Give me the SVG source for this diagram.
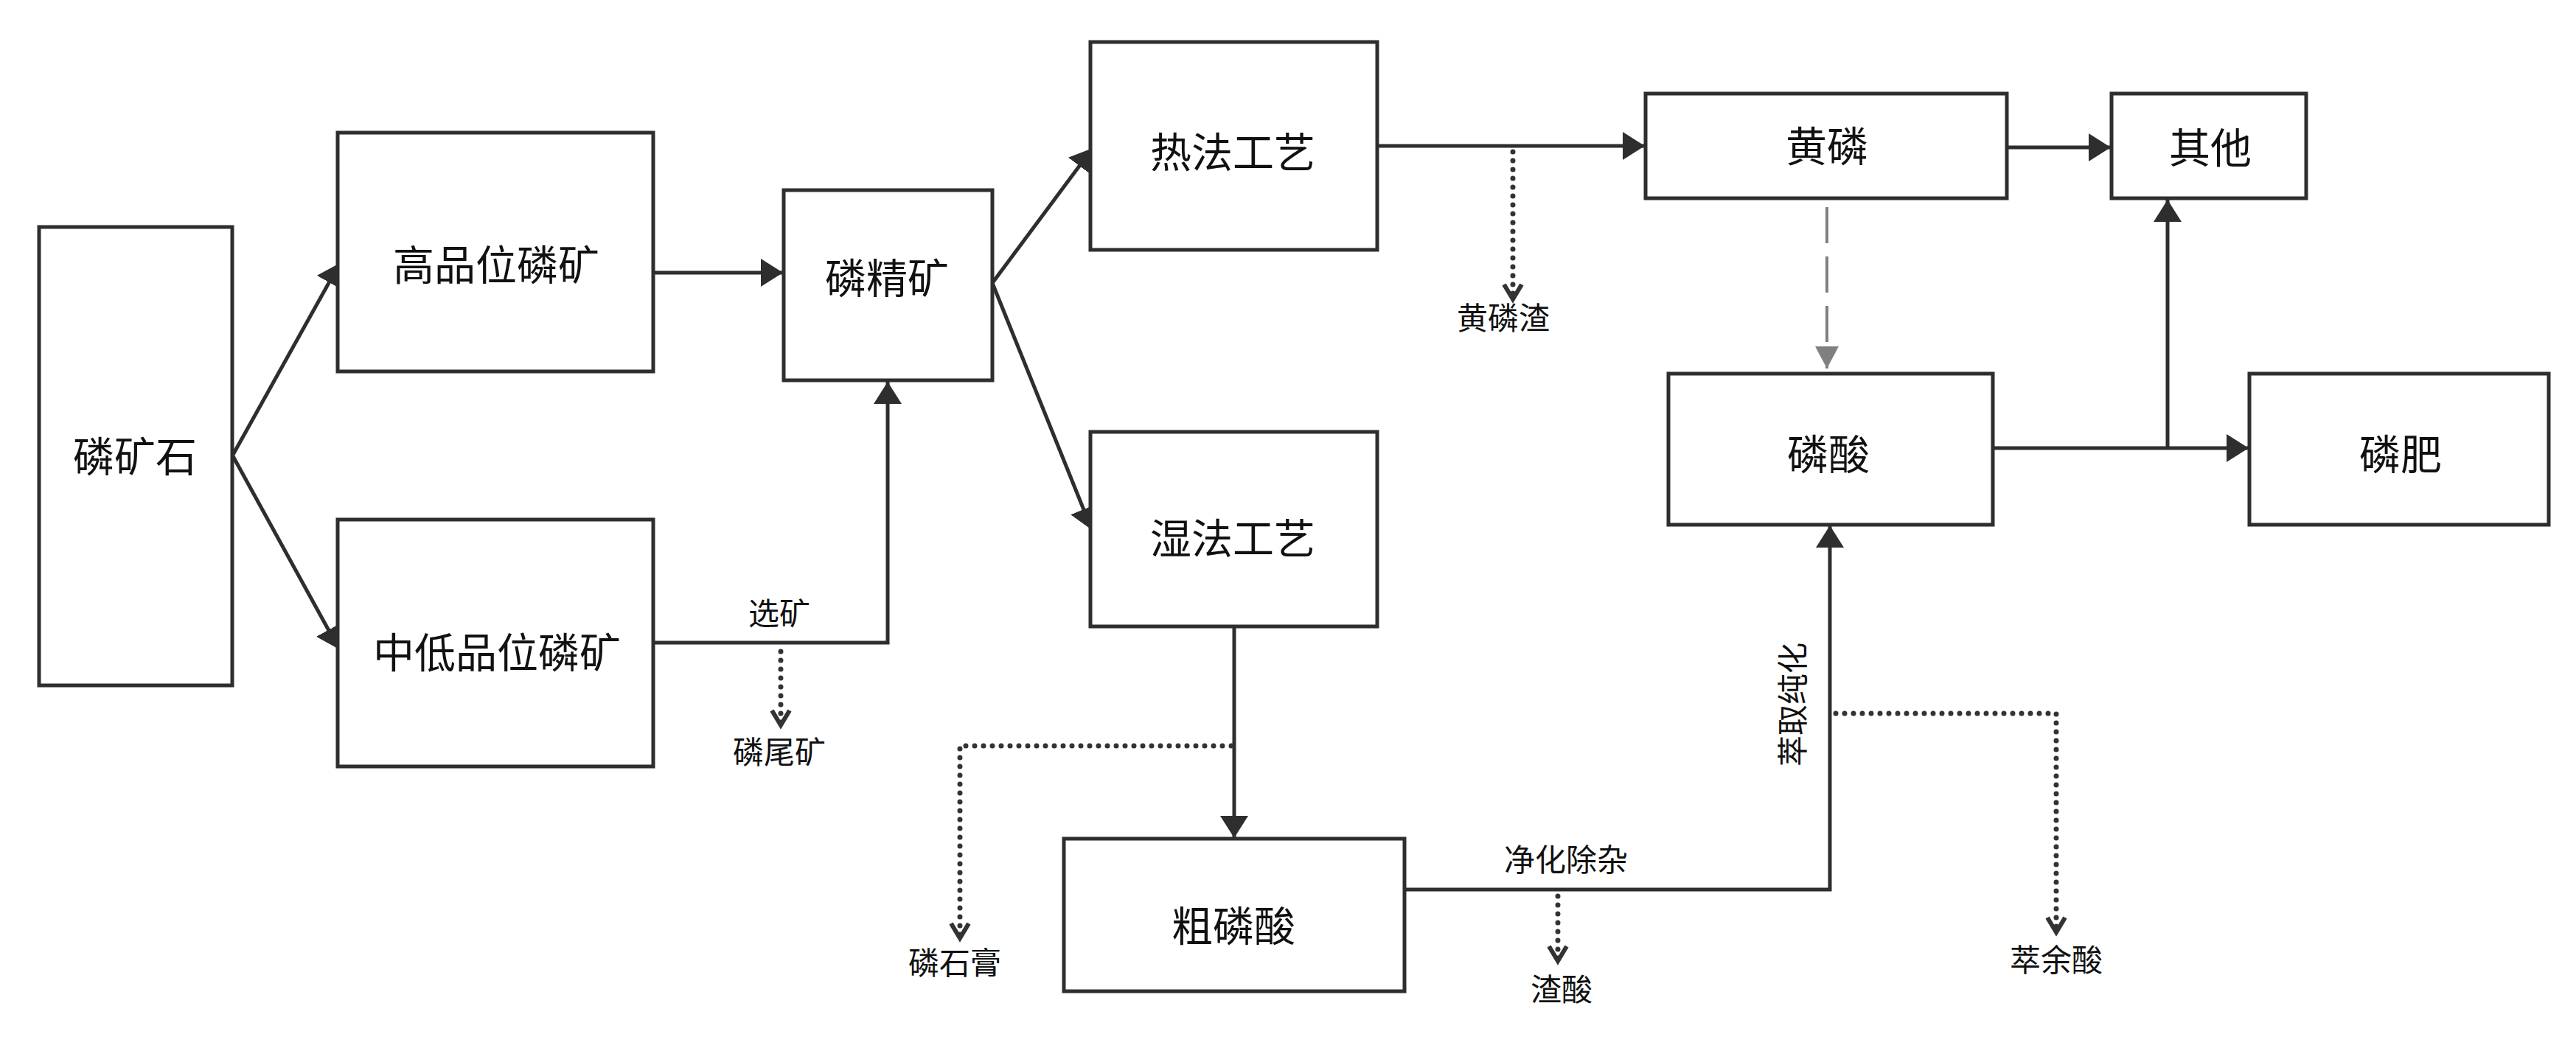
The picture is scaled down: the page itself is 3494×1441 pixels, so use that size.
<svg xmlns="http://www.w3.org/2000/svg" width="3494" height="1441" viewBox="0 0 3494 1441">
<style>
.box{fill:#fff;stroke:#2e2e2e;stroke-width:5}
.lbl{font-family:"Noto Sans CJK SC","Noto Sans CJK TC",sans-serif;font-size:56px;fill:#111;text-anchor:middle}
.sm{font-family:"Noto Sans CJK SC","Noto Sans CJK TC",sans-serif;font-size:42px;fill:#111;text-anchor:middle}
.ln{fill:none;stroke:#2e2e2e;stroke-width:5;marker-end:url(#arr)}
.dot{fill:none;stroke:#333;stroke-width:7;stroke-linecap:round;stroke-dasharray:0 12;marker-end:url(#chev)}
.gry{fill:none;stroke:#808080;stroke-width:4;stroke-dasharray:49 18;marker-end:url(#garr)}
</style>
<defs>
<marker id="arr" markerUnits="userSpaceOnUse" markerWidth="32" markerHeight="40" refX="30" refY="19" orient="auto">
<path d="M0,0 L30,19 L0,38 z" fill="#2e2e2e"/>
</marker>
<marker id="garr" markerUnits="userSpaceOnUse" markerWidth="32" markerHeight="34" refX="30" refY="16" orient="auto">
<path d="M0,0 L30,16 L0,32 z" fill="#808080"/>
</marker>
<marker id="chev" markerUnits="userSpaceOnUse" markerWidth="30" markerHeight="34" refX="23" refY="15" orient="auto">
<path d="M3,3 L23,15 L3,27" fill="none" stroke="#333" stroke-width="6" stroke-linejoin="miter"/>
</marker>
</defs>
<rect width="3494" height="1441" fill="#fff"/>
<g id="connectors">
<path class="ln" d="M316,617 L461,357"/>
<path class="ln" d="M316,619 L460,881"/>
<path class="ln" d="M886,370 L1062,370"/>
<path class="ln" d="M886,872 L1204,872 L1204,518"/>
<path class="dot" d="M1059,884 L1059,984"/>
<path class="ln" d="M1346,384 L1482,201"/>
<path class="ln" d="M1346,384 L1481,719"/>
<path class="ln" d="M1868,198 L2231,198"/>
<path class="dot" d="M2052,206 L2052,406"/>
<path class="ln" d="M2722,200 L2863,200"/>
<path class="gry" d="M2478,281 L2478,500"/>
<path class="ln" d="M2703,608 L3050,608"/>
<path class="ln" d="M2940,608 L2940,271"/>
<path class="ln" d="M1674,850 L1674,1137"/>
<path class="dot" d="M1670,1012 L1302,1012 L1302,1273"/>
<path class="ln" d="M1905,1207 L2482,1207 L2482,713"/>
<path class="dot" d="M2113,1216 L2113,1304"/>
<path class="dot" d="M2490,968 L2789,968 L2789,1265"/>
<text class="sm" x="1057" y="848">选矿</text>
<text class="sm" x="1057" y="1036">磷尾矿</text>
<text class="sm" x="2039" y="447">黄磷渣</text>
<text class="sm" x="1295" y="1322">磷石膏</text>
<text class="sm" x="2124" y="1182">净化除杂</text>
<text class="sm" x="2118" y="1358">渣酸</text>
<text class="sm" x="2789" y="1318">萃余酸</text>
<text class="sm" transform="translate(2431,956) rotate(-90)" x="0" y="16">萃取纯化</text>
</g>
<g id="n-linkuangshi"><rect class="box" x="53" y="308" width="262" height="622"/><text class="lbl" x="183" y="640">磷矿石</text></g>
<g id="n-gaopinwei"><rect class="box" x="458" y="180" width="428" height="324"/><text class="lbl" x="673" y="380">高品位磷矿</text></g>
<g id="n-zhongdi"><rect class="box" x="458" y="705" width="428" height="335"/><text class="lbl" x="674" y="906">中低品位磷矿</text></g>
<g id="n-linjingkuang"><rect class="box" x="1063" y="258" width="283" height="258"/><text class="lbl" x="1203" y="398">磷精矿</text></g>
<g id="n-refa"><rect class="box" x="1479" y="57" width="389" height="282"/><text class="lbl" x="1672" y="227">热法工艺</text></g>
<g id="n-shifa"><rect class="box" x="1479" y="586" width="389" height="264"/><text class="lbl" x="1672" y="751">湿法工艺</text></g>
<g id="n-culinsuan"><rect class="box" x="1443" y="1138" width="462" height="207"/><text class="lbl" x="1673" y="1277">粗磷酸</text></g>
<g id="n-huanglin"><rect class="box" x="2232" y="127" width="490" height="142"/><text class="lbl" x="2478" y="219">黄磷</text></g>
<g id="n-qita"><rect class="box" x="2864" y="127" width="264" height="142"/><text class="lbl" x="2998" y="221">其他</text></g>
<g id="n-linsuan"><rect class="box" x="2263" y="507" width="440" height="205"/><text class="lbl" x="2480" y="637">磷酸</text></g>
<g id="n-linfei"><rect class="box" x="3051" y="507" width="406" height="205"/><text class="lbl" x="3256" y="637">磷肥</text></g>
</svg>
